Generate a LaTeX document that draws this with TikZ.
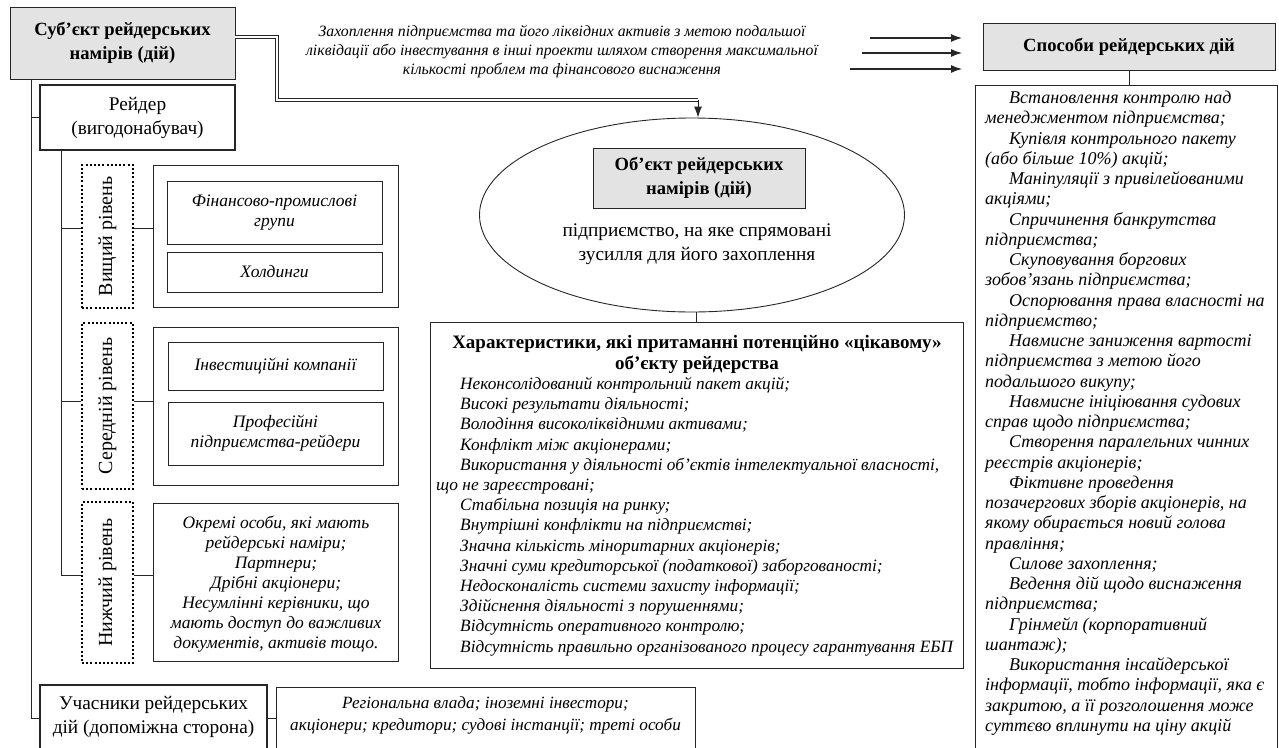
\documentclass[tikz,border=0pt]{standalone}
\usepackage{fontspec}
\setmainfont{Liberation Serif}
\usetikzlibrary{arrows.meta,shapes.geometric}
\newcommand{\itemind}{\hspace*{24pt}}
\tikzset{
  frame/.style={draw=black!85, line width=0.9pt, inner sep=0pt, align=center},
  greyframe/.style={frame, fill=black!11},
  boldframe/.style={frame, line width=2.8pt},
  dotframe/.style={draw=black, line width=2pt, dash pattern=on 2pt off 2.2pt, inner sep=0pt},
  wire/.style={draw=black!85, line width=0.9pt},
  pipe/.style={draw=black!85, double=white, double distance=1.6pt, line width=1.1pt},
  arr/.style={draw=black!85, line width=1.1pt, -{Latex[length=11pt,width=8pt]}},
  hd/.style={font=\bfseries\fontsize{18.6}{24}\selectfont, align=center, inner sep=0pt},
  rm/.style={font=\fontsize{19.3}{24}\selectfont, align=center, inner sep=0pt},
  lvl/.style={font=\fontsize{20}{24}\selectfont, inner sep=0pt, rotate=90},
  it/.style={font=\itshape\fontsize{17.5}{20}\selectfont, inner sep=0pt},
}
\begin{document}
\begin{tikzpicture}[x=1pt,y=-1pt]
\useasboundingbox (0,0) rectangle (1279,747);
\clip (0,0) rectangle (1279,747);

% subject of raiding
\node[greyframe, minimum width=225, minimum height=72] (subj) at (122.5,43) {};
\node[hd] (subjtxt) at (subj) {Суб’єкт рейдерських\\намірів (дій)};

% raider and its levels
\node[boldframe, minimum width=195, minimum height=65] (raider) at (137.5,117.5) {};
\node[rm] (raidertxt) at (raider) {Рейдер\\(вигодонабувач)};

\node[dotframe, minimum width=51, minimum height=143] (lvl1) at (107.5,236.5) {};
\node[lvl] (lvl1txt) at (lvl1) {Вищий рівень};
\node[frame, minimum width=245, minimum height=142] (grp1) at (275.5,236) {};
\node[frame, minimum width=215, minimum height=63, it, align=center] (fpg) at (274.5,212.5) {Фінансово-промислові\\групи};
\node[frame, minimum width=215, minimum height=40, it, align=center] (hold) at (274.5,272) {Холдинги};

\node[dotframe, minimum width=51, minimum height=166] (lvl2) at (107.5,406) {};
\node[lvl] (lvl2txt) at (lvl2) {Середній рівень};
\node[frame, minimum width=245, minimum height=158] (grp2) at (275.5,406) {};
\node[frame, minimum width=215, minimum height=48, it, align=center] (inv) at (275.5,366) {Інвестиційні компанії};
\node[frame, minimum width=215, minimum height=63, it, align=center] (prof) at (275.5,433.5) {Професійні\\підприємства-рейдери};

\node[dotframe, minimum width=51, minimum height=161] (lvl3) at (107.5,582.5) {};
\node[lvl] (lvl3txt) at (lvl3) {Нижчий рівень};
\node[frame, minimum width=245, minimum height=158] (grp3) at (275.5,582) {};
\node[it, align=center] (grp3txt) at (276,584) {Окремі особи, які мають\\рейдерські наміри;\\Партнери;\\Дрібні акціонери;\\Несумлінні керівники, що\\мають доступ до важливих\\документів, активів тощо.};

% participants
\node[boldframe, minimum width=227, minimum height=64] (part) at (153.5,717) {};
\node[rm] (parttxt) at (153.5,717) {Учасники рейдерських\\дій (допоміжна сторона)};
\node[frame, minimum width=419, minimum height=62] (reg) at (485.5,718) {};
\node[it, align=center, font=\itshape\fontsize{17.2}{22}\selectfont] (regtxt) at (485.5,715) {Регіональна влада; іноземні інвестори;\\акціонери; кредитори; судові інстанції; треті особи};

% connectors of the left tree
\coordinate (t0) at (31,79);
\coordinate (t1) at (31,117);
\coordinate (t2) at (31,718);
\draw[wire] (t0) -- (t2) -- (t2 -| part.west);
\draw[wire] (t1) -- (t1 -| raider.west);
\coordinate (r0) at (61,150);
\coordinate (r1) at (61,228);
\coordinate (r2) at (61,401);
\coordinate (r3) at (61,575);
\draw[wire] (r0) -- (r3);
\draw[wire] (r1) -- (r1 -| lvl1.west);
\draw[wire] (r1 -| lvl1.east) -- (r1 -| grp1.west);
\draw[wire] (r2) -- (r2 -| lvl2.west);
\draw[wire] (r2 -| lvl2.east) -- (r2 -| grp2.west);
\draw[wire] (r3) -- (r3 -| lvl3.west);
\draw[wire] (r3 -| lvl3.east) -- (r3 -| grp3.west);
\draw[wire] (t2 -| part.east) -- (t2 -| reg.west);

% goal of the raider
\node[align=center, inner sep=0pt, font=\itshape\fontsize{15.8}{19}\selectfont] (goal) at (562,52) {Захоплення підприємства та його ліквідних активів з метою подальшої\\ліквідації або інвестування в інші проекти шляхом створення максимальної\\кількості проблем та фінансового виснаження};

% object of raiding
\node[draw=black!85, line width=0.9pt, ellipse, minimum width=425, minimum height=194, inner sep=0pt] (obj) at (692,215) {};
\node[greyframe, minimum width=212, minimum height=60] (objhd) at (699,178) {};
\node[hd] (objhdtxt) at (objhd) {Об’єкт рейдерських\\намірів (дій)};
\node[rm] (objtxt) at (697,244) {підприємство, на яке спрямовані\\зусилля для його захоплення};

\coordinate (p1) at (277,37);
\coordinate (p2) at (277,100);
\coordinate (p3) at (698,100);
\draw[pipe] (p1 -| subj.east) -- (p1) -- (p2) -- (p3);
\draw[arr, line width=0.9pt] (p3) -- (p3 |- obj.north);

% characteristics of a target
\node[frame, minimum width=533, minimum height=346] (chars) at (696.5,495) {};
\draw[wire] (obj.south -| chars.north) -- (chars.north);
\node[hd, anchor=north, font=\bfseries\fontsize{19}{21}\selectfont] (charshd) at (697,335) {Характеристики, які притаманні потенційно «цікавому»\\об’єкту рейдерства};
\node[it, anchor=north west, align=left, font=\itshape\fontsize{17.3}{20.2}\selectfont] (charstxt) at (436,377) {\itemind Неконсолідований контрольний пакет акцій;\\
\itemind Високі результати діяльності;\\
\itemind Володіння високоліквідними активами;\\
\itemind Конфлікт між акціонерами;\\
\itemind Використання у діяльності об’єктів інтелектуальної власності,\\
що не зареєстровані;\\
\itemind Стабільна позиція на ринку;\\
\itemind Внутрішні конфлікти на підприємстві;\\
\itemind Значна кількість міноритарних акціонерів;\\
\itemind Значні суми кредиторської (податкової) заборгованості;\\
\itemind Недосконалість системи захисту інформації;\\
\itemind Здійснення діяльності з порушеннями;\\
\itemind Відсутність оперативного контролю;\\
\itemind Відсутність правильно організованого процесу гарантування ЕБП};

% ways of raiding
\node[greyframe, minimum width=292, minimum height=47] (way) at (1129,46.5) {};
\node[hd] (waytxt) at (way) {Способи рейдерських дій};
\coordinate (a1s) at (870,38);
\coordinate (a2s) at (862,53);
\coordinate (a3s) at (850,69);
\coordinate (a1e) at (962,38);
\coordinate (a2e) at (962,53);
\coordinate (a3e) at (962,69);
\draw[arr] (a1s) -- (a1e);
\draw[arr] (a2s) -- (a2e);
\draw[arr] (a3s) -- (a3e);

\node[frame, anchor=north west, minimum width=302, minimum height=680] (waylist) at (975,85) {};
\draw[wire] (way.south) -- (way.south |- waylist.north);
\node[it, anchor=north west, align=left, font=\itshape\fontsize{18}{20.25}\selectfont] (waylisttxt) at (985,91) {\itemind Встановлення контролю над\\
менеджментом підприємства;\\
\itemind Купівля контрольного пакету\\
(або більше 10\%) акцій;\\
\itemind Маніпуляції з привілейованими\\
акціями;\\
\itemind Спричинення банкрутства\\
підприємства;\\
\itemind Скуповування боргових\\
зобов’язань підприємства;\\
\itemind Оспорювання права власності на\\
підприємство;\\
\itemind Навмисне заниження вартості\\
підприємства з метою його\\
подальшого викупу;\\
\itemind Навмисне ініціювання судових\\
справ щодо підприємства;\\
\itemind Створення паралельних чинних\\
реєстрів акціонерів;\\
\itemind Фіктивне проведення\\
позачергових зборів акціонерів, на\\
якому обирається новий голова\\
правління;\\
\itemind Силове захоплення;\\
\itemind Ведення дій щодо виснаження\\
підприємства;\\
\itemind Грінмейл (корпоративний\\
шантаж);\\
\itemind Використання інсайдерської\\
інформації, тобто інформації, яка є\\
закритою, а її розголошення може\\
суттєво вплинути на ціну акцій};
\end{tikzpicture}
\end{document}
